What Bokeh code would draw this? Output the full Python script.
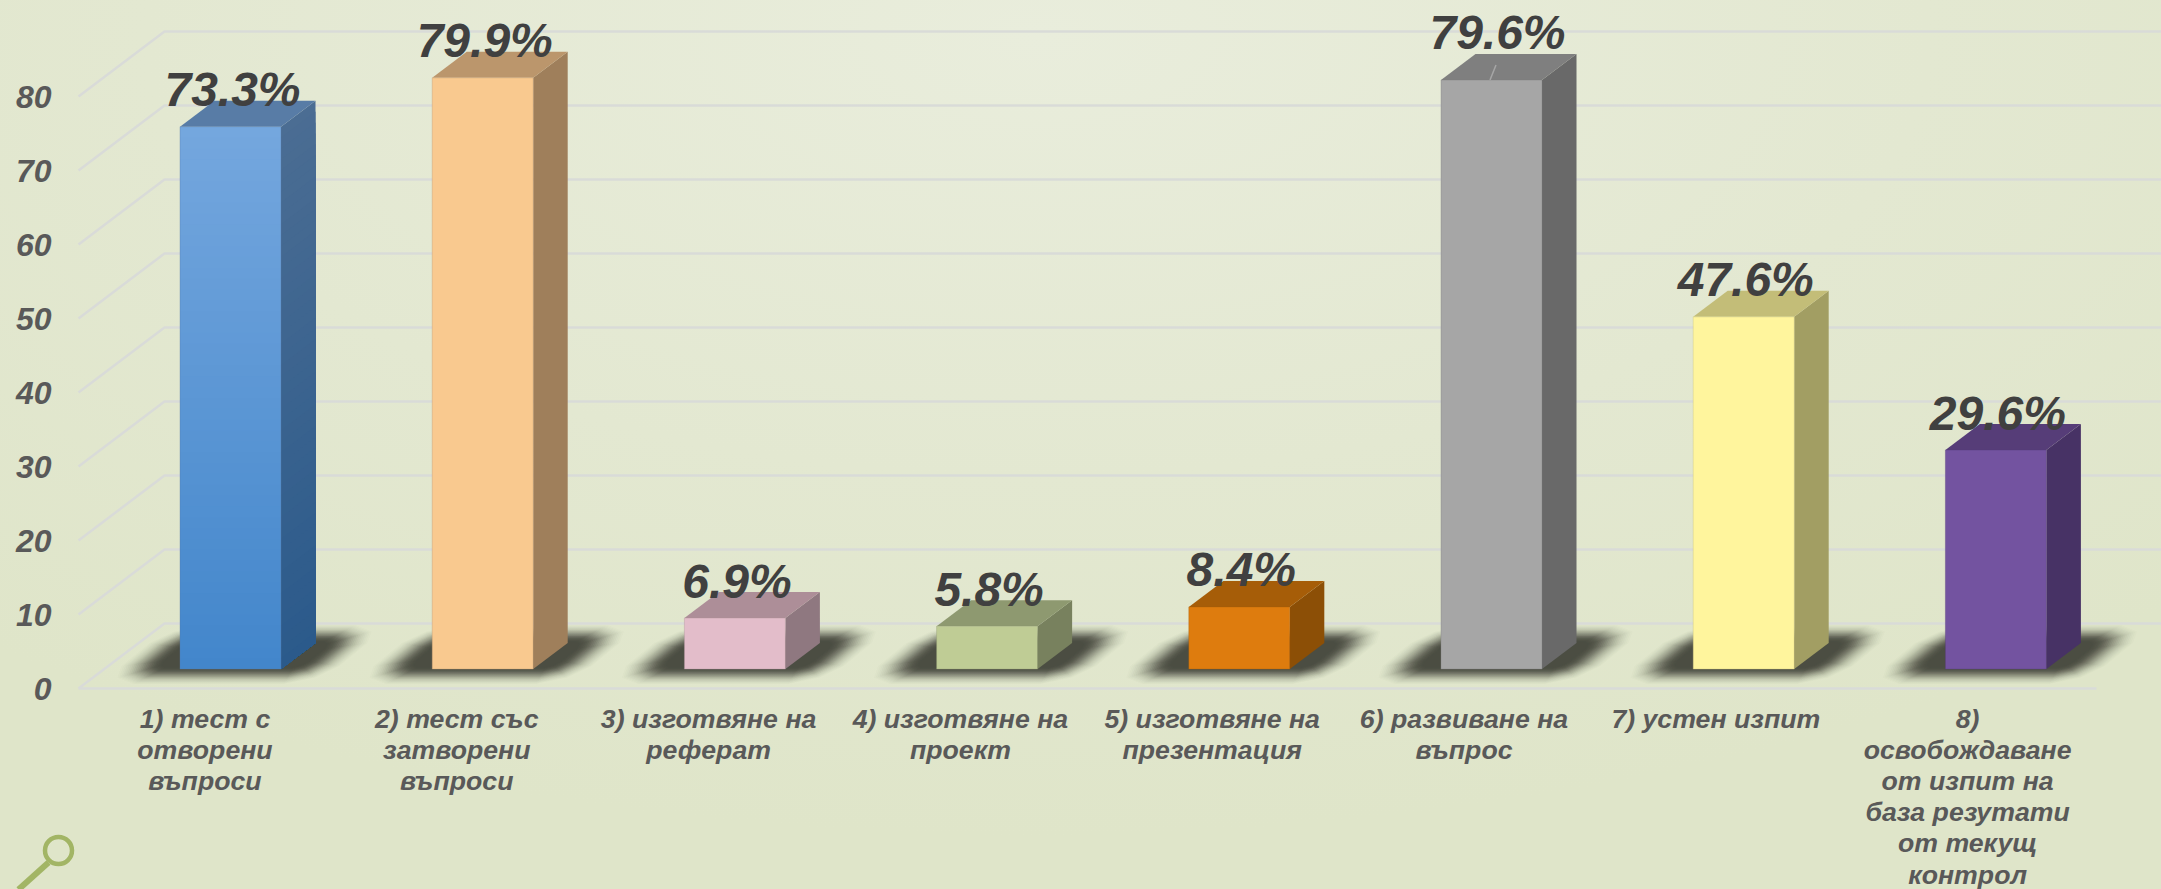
from bokeh.plotting import figure
from bokeh.models import FixedTicker, Range1d
from bokeh.core.properties import value
from bokeh.embed import file_html
from bokeh.resources import INLINE

# ---- data ----
categories = [
    "1) тест с\nотворени\nвъпроси",
    "2) тест със\nзатворени\nвъпроси",
    "3) изготвяне на\nреферат",
    "4) изготвяне на\nпроект",
    "5) изготвяне на\nпрезентация",
    "6) развиване на\nвъпрос",
    "7) устен изпит",
    "8)\nосвобождаване\nот изпит на\nбаза резутати\nот текущ\nконтрол",
]
values = [73.3, 79.9, 6.9, 5.8, 8.4, 79.6, 47.6, 29.6]
value_labels = ["73.3%", "79.9%", "6.9%", "5.8%", "8.4%", "79.6%", "47.6%", "29.6%"]
y_ticks = [0, 10, 20, 30, 40, 50, 60, 70, 80]

front_top = ["#74a7de", "#f9c98f", "#e3bdca", "#bfcc95", "#de7c0e", "#a6a6a6", "#fff59d", "#7353a0"]
front_bot = ["#4386cb", "#f9c98f", "#e3bdca", "#bfcc95", "#de7c0e", "#a6a6a6", "#fff59d", "#7353a0"]
side_top = ["#4b6d93", "#9f7f5b", "#8f7880", "#78815e", "#8c4f06", "#696969", "#a29e63", "#473265"]
side_bot = ["#2b5a8b", "#9f7f5b", "#8f7880", "#78815e", "#8c4f06", "#696969", "#a29e63", "#473265"]
top_col = ["#587ca6", "#bb966c", "#ad8e98", "#8e9970", "#a65d08", "#7f7f7f", "#c3bd78", "#563d78"]

# ---- layout scale: page pixels <-> data ----
W, H = 2161, 889
PX_PER_CAT = 251.8
BAR_PITCH = 252.2 / 251.8
PX_PER_VAL = 7.4
CAT0_PX = 204.5
ZERO_PY = 688.0


def dx(px):
    return px / PX_PER_CAT


def dy(px):
    return px / PX_PER_VAL


def X(px):
    return (px - CAT0_PX) / PX_PER_CAT


def Y(py):
    return (ZERO_PY - py) / PX_PER_VAL


p = figure(
    width=W, height=H, output_backend="svg", toolbar_location=None,
    x_range=Range1d(X(0), X(W)), y_range=Range1d(Y(H), Y(0)),
    min_border=0, outline_line_color=None,
    background_fill_alpha=0, border_fill_alpha=0,
)
p.grid.visible = False

FONT = "Liberation Sans"
LABEL_COL = "#595959"

p.xaxis.fixed_location = 0
p.xaxis.ticker = FixedTicker(ticks=list(range(len(categories))))
p.xaxis.major_label_overrides = {i: c for i, c in enumerate(categories)}
p.xaxis.major_label_text_font = FONT
p.xaxis.major_label_text_font_style = "bold italic"
p.xaxis.major_label_text_font_size = "26.7px"
p.xaxis.major_label_text_color = LABEL_COL
p.xaxis.major_label_text_line_height = 1.04
p.xaxis.major_label_standoff = 9
p.xaxis.axis_line_color = None
p.xaxis.major_tick_line_color = None
p.xaxis.minor_tick_line_color = None

p.yaxis.fixed_location = X(78)
p.yaxis.ticker = FixedTicker(ticks=y_ticks)
p.yaxis.major_label_text_font = FONT
p.yaxis.major_label_text_font_style = "bold italic"
p.yaxis.major_label_text_font_size = "32px"
p.yaxis.major_label_text_color = LABEL_COL
p.yaxis.major_label_standoff = 21
p.yaxis.axis_line_color = None
p.yaxis.major_tick_line_color = None
p.yaxis.minor_tick_line_color = None

# ---- 3D walls: gridlines ----
GRID = "#d9dbd8"
wall_dx, wall_dy = dx(86), dy(65)
x_left = X(78)
x_right = X(W + 5)
xs = [[x_left, x_left + wall_dx, x_right] for _ in y_ticks]
ys = [[t, t + wall_dy, t + wall_dy] for t in y_ticks]
p.multi_line(xs, ys, line_color=GRID, line_width=2.5)
p.line([x_left, X(2096)], [0, 0], line_color=GRID, line_width=2.5)

# ---- bars ----
base = dy(19.4)  # front-bottom edge sits this far behind the axis plane
b_off = dx(-25)  # front-left edge relative to the category tick
b_w = dx(101)
d_x, d_y = dx(34.5), dy(26)
n_bars = len(values)
bar_x = [i * BAR_PITCH + b_off for i in range(n_bars)]


def hex_mix(a, b, t):
    ca = [int(a[i:i + 2], 16) for i in (1, 3, 5)]
    cb = [int(b[i:i + 2], 16) for i in (1, 3, 5)]
    return "#%02x%02x%02x" % tuple(round(u + (w - u) * t) for u, w in zip(ca, cb))


# soft ground shadows: stacked translucent sheared shapes give a blurred edge
SH = "#4b4d42"
SHEAR = 55 / 45
shadow_alphas = [0.015, 0.02, 0.025, 0.03, 0.035, 0.04, 0.05, 0.06, 0.07, 0.08, 0.09, 0.10,
                 0.12, 0.14, 0.16, 0.18, 0.20, 0.23, 0.26, 0.30, 0.34, 0.38, 0.42, 0.46]
for layer, alpha in enumerate(shadow_alphas):
    ins = layer * 0.72
    u0, u1 = -72 + ins * 2.2, 146 - ins * 2.2
    v0, v1 = -44 + ins, 15 - ins      # v is pixels below the bar's front-bottom edge
    ch = max(34 - layer * 1.1, 8)
    cv = max(18 - layer * 0.5, 5)
    pts = [(u0 + ch, v1), (u1 - ch, v1), (u1 - ch * .3, v1 - cv * .35), (u1, v1 - cv),
           (u1, v0 + cv), (u1 - ch * .3, v0 + cv * .35), (u1 - ch, v0),
           (u0 + ch, v0), (u0 + ch * .3, v0 + cv * .35), (u0, v0 + cv),
           (u0, v1 - cv), (u0 + ch * .3, v1 - cv * .35)]
    sx = [[x0 + dx(a + (8 - b) * SHEAR) for a, b in pts] for x0 in bar_x]
    sy = [[base - dy(b) for _, b in pts] for _ in bar_x]
    p.patches(sx, sy, fill_color=SH, fill_alpha=alpha, line_color=None)

for i, v in enumerate(values):
    x0 = bar_x[i]
    x1 = x0 + b_w
    top = base + v
    n = 50 if front_top[i] != front_bot[i] else 1
    # side face (painted top-down with overlap so there are no seams)
    for k in range(n - 1, -1, -1):
        a, b = k / n, (k + 1) / n
        c = hex_mix(side_bot[i], side_top[i], (a + b) / 2)
        y_b = base + v * b
        p.patch([x1, x1 + d_x, x1 + d_x, x1], [base, base + d_y, y_b + d_y, y_b],
                fill_color=c, line_color=None)
    # top face
    p.patch([x0, x1, x1 + d_x, x0 + d_x], [top, top, top + d_y, top + d_y],
            fill_color=top_col[i], line_color=None)
    # front face
    for k in range(n - 1, -1, -1):
        a, b = k / n, (k + 1) / n
        c = hex_mix(front_bot[i], front_top[i], (a + b) / 2)
        p.quad(left=x0, right=x1, bottom=base, top=base + v * b,
               fill_color=c, line_color=None)
    # thin edge around the front face
    p.line([x0, x0, x1, x1, x0], [base, top, top, base, base],
           line_color=top_col[i], line_alpha=0.35, line_width=1)

# ---- value labels ----
label_shift_x = [0, 0, 0, 0, 0, 4, 0, 0]
label_shift_y = [0, 0, 0, 0, 0, 11, 0, 0]
p.text(
    x=[bar_x[i] + b_w / 2 + dx(2 + label_shift_x[i]) for i in range(n_bars)],
    y=[base + v + dy(37 + label_shift_y[i]) for i, v in enumerate(values)],
    text=value_labels,
    text_font=value(FONT), text_font_style="bold italic", text_font_size="48px",
    text_color="#404040", text_align="center", text_baseline="middle",
)

# leader line of the moved label on bar 6
p.line([bar_x[5] + dx(49), bar_x[5] + dx(55)],
       [base + values[5], base + values[5] + dy(15)],
       line_color="#a6a6a6", line_width=1.5)

# ---- decoration, bottom-left ----
DECO = "#a2b565"
p.line([X(48), X(18)], [Y(862), Y(889)], line_color=DECO, line_width=6)
p.scatter([X(58)], [Y(850)], size=27, marker="circle", fill_color=None,
          line_color=DECO, line_width=4.5)

html = file_html(p, INLINE)
style = (
    "<style>html,body{margin:0;padding:0;overflow:hidden;height:100%;"
    "background:radial-gradient(ellipse 75% 90% at 48% 4%,#e9eddc 0%,#e3e8d1 55%,#dfe5c9 100%);}</style>"
)
html = html.replace("</head>", style + "</head>", 1)
open("out.html", "w").write(html)
